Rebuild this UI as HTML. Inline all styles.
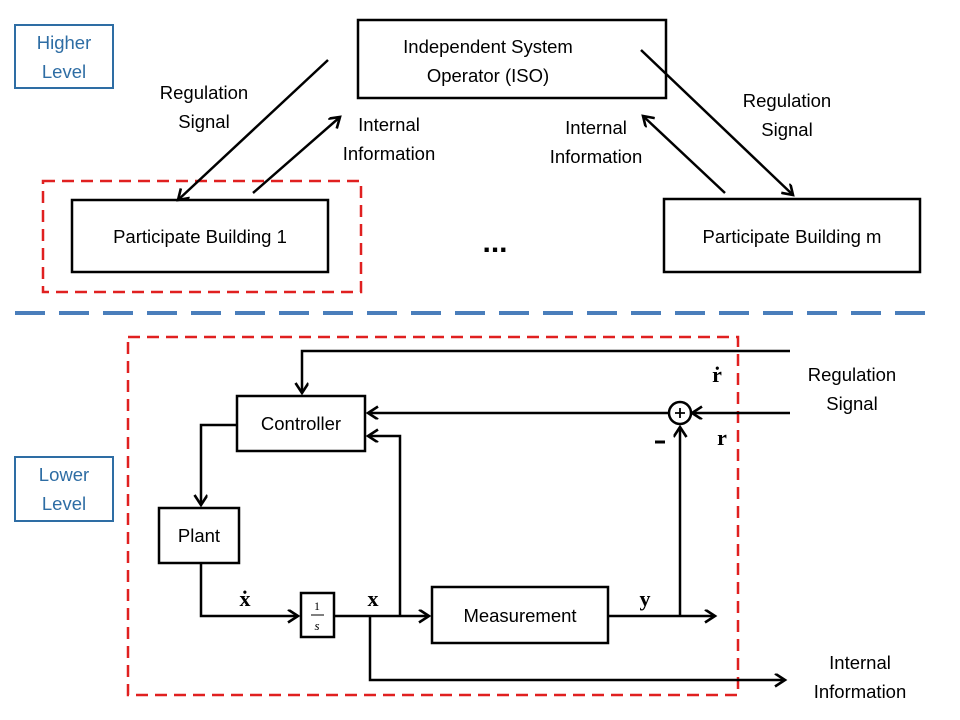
<!DOCTYPE html>
<html><head><meta charset="utf-8"><style>
html,body{margin:0;padding:0;background:#fff}
svg{display:block}
text{font-family:"Liberation Sans",sans-serif;font-size:18.5px;fill:#000}
.m{font-family:"Liberation Serif",serif;font-weight:bold;font-size:22px}
</style></head><body>
<svg width="960" height="720" viewBox="0 0 960 720" xmlns="http://www.w3.org/2000/svg">
<defs>
<marker id="a" markerWidth="14" markerHeight="14" refX="11" refY="6.5" orient="auto" markerUnits="userSpaceOnUse">
<path d="M1,0 L11,6.5 L1,13" fill="none" stroke="#000" stroke-width="2.6"/>
</marker>
</defs>
<g fill="none" stroke="#000" stroke-width="2.5">
<rect x="358" y="20" width="308" height="78"/>
<rect x="72" y="200" width="256" height="72"/>
<rect x="664" y="199" width="256" height="73"/>
<rect x="237" y="396" width="128" height="55"/>
<rect x="159" y="508" width="80" height="55"/>
<rect x="301" y="593" width="33" height="44"/>
<rect x="432" y="587" width="176" height="56"/>
<circle cx="680" cy="413" r="11"/>
</g>
<rect x="15" y="25" width="98" height="63" fill="none" stroke="#2e6da4" stroke-width="2"/>
<rect x="15" y="457" width="98" height="64" fill="none" stroke="#2e6da4" stroke-width="2"/>
<rect x="43" y="181" width="318" height="111" fill="none" stroke="#e02020" stroke-width="2.5" stroke-dasharray="12,7"/>
<rect x="128" y="337" width="610" height="358" fill="none" stroke="#e02020" stroke-width="2.5" stroke-dasharray="12,7"/>
<line x1="15" y1="313" x2="930" y2="313" stroke="#4a7ebb" stroke-width="4" stroke-dasharray="30,14"/>
<g fill="none" stroke="#000" stroke-width="2.5" marker-end="url(#a)">
<line x1="328" y1="60" x2="178" y2="200"/>
<line x1="253" y1="193" x2="340" y2="117"/>
<line x1="641" y1="50" x2="793" y2="195"/>
<line x1="725" y1="193" x2="643" y2="116"/>
<polyline points="790,351 302,351 302,393"/>
<line x1="790" y1="413" x2="692" y2="413"/>
<line x1="669" y1="413" x2="368" y2="413"/>
<polyline points="237,425 201,425 201,505"/>
<polyline points="201,563 201,616 298,616"/>
<line x1="334" y1="616" x2="429" y2="616"/>
<polyline points="400,616 400,436 368,436"/>
<polyline points="370,616 370,680 785,680"/>
<line x1="608" y1="616" x2="715" y2="616"/>
<line x1="680" y1="616" x2="680" y2="427"/>
</g>
<path d="M675,413 h10 M680,408 v10" stroke="#000" stroke-width="1.8"/>
<line x1="655" y1="442" x2="665" y2="442" stroke="#000" stroke-width="3"/>
<text x="64" y="49" text-anchor="middle" style="fill:#2e6da4">Higher</text>
<text x="64" y="78" text-anchor="middle" style="fill:#2e6da4">Level</text>
<text x="64" y="481" text-anchor="middle" style="fill:#2e6da4">Lower</text>
<text x="64" y="510" text-anchor="middle" style="fill:#2e6da4">Level</text>
<text x="488" y="53" text-anchor="middle">Independent System</text>
<text x="488" y="82" text-anchor="middle">Operator (ISO)</text>
<text x="200" y="243" text-anchor="middle">Participate Building 1</text>
<text x="792" y="243" text-anchor="middle">Participate Building m</text>
<text x="495" y="252" text-anchor="middle" style="font-size:30px;font-weight:bold">...</text>
<text x="204" y="99" text-anchor="middle">Regulation</text>
<text x="204" y="128" text-anchor="middle">Signal</text>
<text x="389" y="131" text-anchor="middle">Internal</text>
<text x="389" y="160" text-anchor="middle">Information</text>
<text x="596" y="134" text-anchor="middle">Internal</text>
<text x="596" y="163" text-anchor="middle">Information</text>
<text x="787" y="107" text-anchor="middle">Regulation</text>
<text x="787" y="136" text-anchor="middle">Signal</text>
<text x="852" y="381" text-anchor="middle">Regulation</text>
<text x="852" y="410" text-anchor="middle">Signal</text>
<text x="860" y="669" text-anchor="middle">Internal</text>
<text x="860" y="698" text-anchor="middle">Information</text>
<text x="301" y="430" text-anchor="middle">Controller</text>
<text x="199" y="542" text-anchor="middle">Plant</text>
<text x="520" y="622" text-anchor="middle">Measurement</text>
<text x="317" y="610" text-anchor="middle" style="font-size:12px;font-family:'Liberation Serif',serif">1</text>
<line x1="311" y1="615" x2="324" y2="615" stroke="#000" stroke-width="1"/>
<text x="317" y="630" text-anchor="middle" style="font-size:13px;font-style:italic;font-family:'Liberation Serif',serif">s</text>
<text class="m" x="717" y="382" text-anchor="middle">ṙ</text>
<text class="m" x="722" y="445" text-anchor="middle">r</text>
<text class="m" x="245" y="606" text-anchor="middle">ẋ</text>
<text class="m" x="373" y="606" text-anchor="middle">x</text>
<text class="m" x="645" y="606" text-anchor="middle">y</text>
</svg>
</body></html>
